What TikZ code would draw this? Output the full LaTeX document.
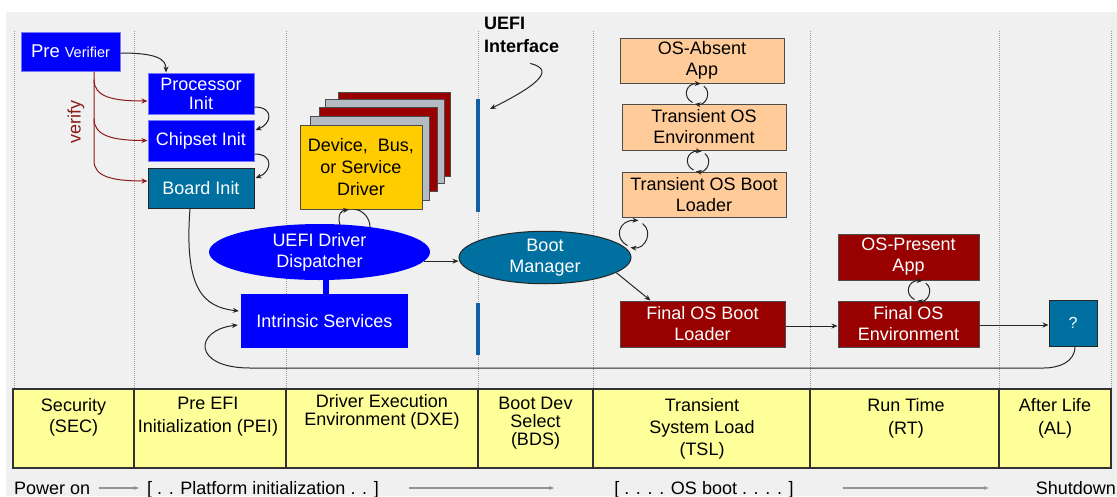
\documentclass[tikz,border=0pt]{standalone}
\usepackage{fontspec}
\setmainfont{Liberation Sans}
\usetikzlibrary{shapes.geometric,arrows.meta,calc}
\definecolor{bgc}{HTML}{F0F0F0}
\definecolor{pblue}{HTML}{0000FF}
\definecolor{lblue}{HTML}{7878FF}
\definecolor{tealc}{HTML}{0070A0}
\definecolor{dred}{HTML}{990000}
\definecolor{peach}{HTML}{FFCC99}
\definecolor{ylw}{HTML}{FFFF99}
\definecolor{gold}{HTML}{FFCC00}
\definecolor{stackgray}{HTML}{B4BBC3}
\definecolor{vred}{HTML}{8B1A1A}
\definecolor{ifblue}{HTML}{1060A8}
\tikzset{
  box/.style={rectangle, inner sep=0pt, align=center, font=\fontsize{18}{21}\selectfont},
  bluebox/.style={box, fill=pblue, draw=lblue, text=white, line width=1pt},
  tealbox/.style={box, fill=tealc, draw=black!85, text=white, line width=1pt},
  redbox/.style={box, fill=dred, draw=black!70, text=white, line width=1pt},
  peachbox/.style={box, fill=peach, draw=black!70, text=black, line width=1pt},
  stackbox/.style={rectangle, minimum height=84, draw=black!70, line width=0.8pt},
  conn/.style={draw=black!85, line width=1pt, ->},
  vconn/.style={draw=vred, line width=1pt, ->},
  grayarr/.style={draw=gray!85, line width=1.2pt, -{Stealth[length=5pt,width=4pt]}},
  cellbox/.style={rectangle, fill=ylw, draw=black!80, line width=1.2pt, minimum height=79, inner sep=0pt},
  celltext/.style={align=center, inner sep=0pt, font=\fontsize{18}{21}\selectfont},
  btext/.style={inner sep=0pt, font=\fontsize{18}{21}\selectfont},
  dotline/.style={draw=gray!80, line width=0.9pt, dash pattern=on 1pt off 1pt},
  cyclearr/.pic={
    \draw[conn] (-6,12) .. controls (-20,5) and (-15,-14) .. (5,-13);
    \draw[conn] (9,-10) .. controls (20,-2) and (12,16) .. (-3,14);
  },
}
\begin{document}
\begin{tikzpicture}[x=1pt,y=-1pt,>={Stealth[length=6pt,width=5pt]}]
\useasboundingbox (0,0) rectangle (1117,496);
\fill[white] (0,0) rectangle (1117,496);
\fill[bgc] (6,12) rectangle (1117,496);
\foreach \x in {14,134,286,478,593,810,999,1111} \draw[dotline] (\x,31) -- (\x,389);

% ---- phase band ----
\node[cellbox, minimum width=121] (csec) at (73.5,428.5) {};
\node[cellbox, minimum width=152] (cpei) at (210,428.5) {};
\node[cellbox, minimum width=192] (cdxe) at (382,428.5) {};
\node[cellbox, minimum width=115] (cbds) at (535.5,428.5) {};
\node[cellbox, minimum width=217] (ctsl) at (701.5,428.5) {};
\node[cellbox, minimum width=189] (crt) at (904.5,428.5) {};
\node[cellbox, minimum width=112] (cal) at (1055,428.5) {};
\node[celltext] (tsec) at (73.5,417.5) {Security\\(SEC)};
\node[celltext, font=\fontsize{18}{23}\selectfont] (tpei) at (208,416.5) {Pre EFI\\Initialization (PEI)};
\node[celltext, font=\fontsize{18}{18}\selectfont] (tdxe) at (382,412) {Driver Execution\\Environment (DXE)};
\node[celltext, font=\fontsize{18}{18}\selectfont] (tbds) at (535.5,423) {Boot Dev\\Select\\(BDS)};
\node[celltext, font=\fontsize{18}{22}\selectfont] (ttsl) at (702,429) {Transient\\System Load\\(TSL)};
\node[celltext, font=\fontsize{18}{23}\selectfont] (trt) at (906,418) {Run Time\\(RT)};
\node[celltext, font=\fontsize{18}{23}\selectfont] (tal) at (1055,418) {After Life\\(AL)};

% ---- bottom timeline ----
\node[btext, anchor=base west] (pwr) at (14,494) {Power on};
\node[btext, anchor=base] (plat) at (263,494) {[ . . Platform initialization . . ]};
\node[btext, anchor=base] (osb) at (704,494) {[ . . . . OS boot . . . . ]};
\node[btext, anchor=base east] (shut) at (1116,494) {Shutdown};
\draw[grayarr] ($(pwr.base east)+(9,-6)$) -- ($(plat.base west)+(-8,-6)$);
\draw[grayarr] ($(plat.base east)+(30,-6)$) -- ($(osb.base west)+(-60,-6)$);
\draw[grayarr] ($(osb.base east)+(49,-6)$) -- ($(shut.base west)+(-47,-6)$);

% ---- SEC / PEI ----
\node[bluebox, minimum width=99, minimum height=39] (pv) at (70.5,51.5)
  {{\fontsize{18.5}{20}\selectfont Pre} {\fontsize{14.5}{16}\selectfont Verifier}};
\node[bluebox, minimum width=106, minimum height=41, font=\fontsize{18}{19}\selectfont] (proc) at (201,93.5) {Processor\\Init};
\node[bluebox, minimum width=106, minimum height=41] (chip) at (201,140.5) {Chipset Init};
\node[tealbox, minimum width=106, minimum height=40] (board) at (201,188) {Board Init};
\node[text=vred, rotate=90, inner sep=0pt, font=\fontsize{18}{21}\selectfont] (vlab) at (76,122) {verify};

\draw[conn] ($(pv.east)+(0,1.5)$) .. controls +(35,0) and +(0,-14) .. ($(proc.north)+(-35,0)$);
\draw[conn] ($(proc.east)+(0,13.5)$) .. controls +(20,0) and +(16,-6) .. ($(chip.east)+(1,-10.5)$);
\draw[conn] ($(chip.east)+(0,13.5)$) .. controls +(20,0) and +(16,-6) .. ($(board.east)+(1,-10)$);
\draw[vconn] ($(pv.south)+(23.5,0)$) -- ++(0,89) .. controls +(0,16) and +(-36,0) .. ($(board.west)+(0,-7)$);
\draw[vconn] ($(pv.south)+(23.5,8)$) .. controls +(0,17) and +(-36,0) .. ($(proc.west)+(0,7.5)$);
\draw[vconn] ($(pv.south)+(23.5,47)$) .. controls +(0,17) and +(-36,0) .. (chip.west);

% ---- DXE ----
\node[stackbox, fill=dred, minimum width=112] (st4) at (394,134) {};
\node[stackbox, fill=stackgray, minimum width=119] (st3) at (384.5,141) {};
\node[stackbox, fill=dred, minimum width=118] (st2) at (378,149) {};
\node[stackbox, fill=stackgray, minimum width=119] (st1) at (369.5,158) {};
\node[box, fill=gold, draw=black!70, line width=1pt, minimum width=122, minimum height=84, font=\fontsize{18}{22}\selectfont] (dev) at (361,167) {Device,~~Bus,\\or Service\\Driver};
\node[ellipse, fill=pblue, text=white, inner sep=0pt, minimum width=221, minimum height=56, align=center, font=\fontsize{18}{21}\selectfont] (disp) at (319.5,252) {UEFI Driver\\Dispatcher};
\node[box, fill=pblue, text=white, minimum width=167, minimum height=54] (intr) at (324.5,321) {Intrinsic Services};
\draw[pblue, line width=6pt] ($(intr.north)+(1,0.5)$) -- ($(intr.north)+(1,-16)$);
\draw[conn] ($(disp.north)+(20.5,1.5)$) .. controls +(-3,-12) and +(-7,1) .. ($(dev.south)+(-12,0)$);
\draw[draw=black!85, line width=1pt] ($(dev.south)+(-6,0)$) .. controls +(6,0) and +(0,-10) .. ($(disp.north)+(50.5,3)$);
\draw[conn] ($(board.south)+(-11,0)$) .. controls +(-6,80) and +(-36,-4) .. ($(intr.west)+(-2,-10)$);

% ---- UEFI interface ----
\node[inner sep=0pt, anchor=north west, align=left, font=\bfseries\fontsize{18}{23}\selectfont] (uefi) at (484,17) {UEFI\\Interface};
\node[rectangle, fill=ifblue, inner sep=0pt, minimum width=4, minimum height=113] (bar1) at (477.5,155.5) {};
\node[rectangle, fill=ifblue, inner sep=0pt, minimum width=4, minimum height=52] (bar2) at (477.5,329) {};
\coordinate (ifpt) at (490,109);
\draw[conn] ($(uefi.south)+(8.5,10.5)$) .. controls +(29,7) and +(40,-20) .. (ifpt);

% ---- BDS ----
\node[ellipse, fill=tealc, draw=black!85, line width=1pt, text=white, inner sep=0pt, minimum width=172, minimum height=51, align=center, font=\fontsize{18}{21}\selectfont] (bm) at (545,257.5) {Boot\\Manager};
\draw[conn] (disp.-5) -- (disp.-5 -| bm.west);

% ---- TSL ----
\node[peachbox, minimum width=164, minimum height=45] (osabs) at (702,60.5) {OS-Absent\\App};
\node[peachbox, minimum width=164, minimum height=46] (tenv) at (704,127) {Transient OS\\Environment};
\node[peachbox, minimum width=164, minimum height=45] (tbl) at (704,194.5) {Transient OS Boot\\Loader};
\node[redbox, minimum width=165, minimum height=46] (fbl) at (702.5,324) {Final OS Boot\\Loader};
\pic[scale=0.75] at ($(osabs.south)!0.5!(tenv.north)+(-6,0)$) {cyclearr};
\pic[scale=0.75] at ($(tenv.south)!0.5!(tbl.north)+(-6,0)$) {cyclearr};
\pic at ($(tbl.south west)+(12,16)$) {cyclearr};
\draw[conn] (bm.-12) -- ($(fbl.north west)+(31,0)$);

% ---- RT / AL ----
\node[redbox, minimum width=141, minimum height=46] (ospres) at (908.5,257) {OS-Present\\App};
\node[redbox, minimum width=141, minimum height=46] (fenv) at (908.5,324) {Final OS\\Environment};
\node[tealbox, minimum width=48, minimum height=46, font=\fontsize{16}{18}\selectfont] (q) at (1073,323) {?};
\pic[scale=0.75] at ($(ospres.south)!0.5!(fenv.north)+(10.5,0)$) {cyclearr};
\draw[conn] ($(fbl.east)+(0,2)$) -- ($(fenv.west)+(0,2)$);
\draw[conn] ($(fenv.east)+(0,1)$) -- ($(q.west)+(0,2)$);

% ---- return loop ----
\coordinate (loopR) at (1044,368);
\coordinate (loopL) at (250,368);
\draw[conn] ($(q.south)+(2,0)$) .. controls +(0,16) and +(14,0) .. (loopR) -- (loopL)
  .. controls +(-58,0) and +(-44,5) .. ($(intr.west)+(-3,4)$);
\end{tikzpicture}
\end{document}
